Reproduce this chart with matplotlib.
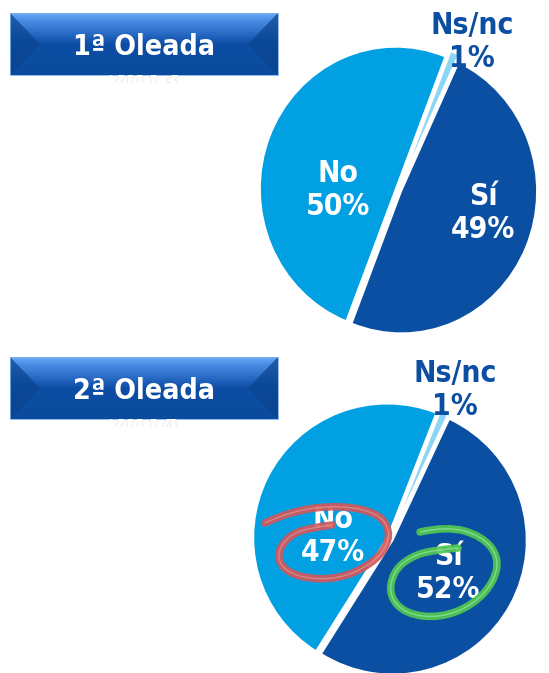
import numpy as np
import matplotlib.pyplot as plt
from matplotlib.path import Path
from matplotlib.patches import PathPatch, Polygon, Rectangle
from matplotlib.colors import LinearSegmentedColormap
import matplotlib.patheffects as pe

W, H = 549, 673

# data
categories = ["Sí", "No", "Ns/nc"]
wave_titles = ["1ª Oleada", "2ª Oleada"]
wave_years = ["2013", "2014"]
values_2013 = [49, 50, 1]
values_2014 = [52, 47, 1]
colors = ["#0b4fa3", "#00a0e3", "#8dd5f5"]

FONT = dict(family="DejaVu Sans", fontstretch="condensed", fontweight="bold")

fig = plt.figure(figsize=(W / 100, H / 100), dpi=100)


def pie_axes(cx, cy, rx, ry):
    # axes placed in pixels, unit circle -> rx, ry pixels
    return fig.add_axes([(cx - 1.25 * rx) / W, (H - cy - 1.25 * ry) / H,
                         2.5 * rx / W, 2.5 * ry / H])


def draw_pie(ax, values):
    ax.pie(values, colors=colors, startangle=65, counterclock=False,
           explode=[0.022, 0.022, 0.05],
           wedgeprops=dict(edgecolor="white", linewidth=1.2))
    ax.set_xlim(-1.25, 1.25)
    ax.set_ylim(-1.25, 1.25)
    ax.set_aspect("auto")
    ax.axis("off")


ax1 = pie_axes(398.5, 190, 135.7, 142)
draw_pie(ax1, values_2013)
ax2 = pie_axes(390, 539, 134, 134)
draw_pie(ax2, values_2014)

# overlay in pixel coords for banners, labels and pen strokes
ov = fig.add_axes([0, 0, 1, 1])
ov.set_xlim(0, W)
ov.set_ylim(H, 0)
ov.axis("off")
ov.patch.set_alpha(0)

grad = np.linspace(0, 1, 100)[:, None]
bcmap = LinearSegmentedColormap.from_list(
    "banner", [(0, "#6aa8f5"), (0.12, "#4a8de6"), (0.45, "#1656b0"), (0.5, "#0c4ea3"), (1, "#0b4b9e")])


def banner(y0, title, year):
    x0, x1, y1 = 10, 278, y0 + 62
    im = ov.imshow(grad, cmap=bcmap, extent=(x0, x1, y1, y0), aspect="auto", zorder=1)
    im.set_clip_path(Rectangle((x0, y0), x1 - x0, y1 - y0, transform=ov.transData))
    ym = y0 + 31
    ov.add_patch(Polygon([(x0, y0), (x0 + 30, ym), (x0, y1)], color="#0a4591", alpha=0.75, lw=0, zorder=2))
    ov.add_patch(Polygon([(x1, y0), (x1 - 30, ym), (x1, y1)], color="#0a4591", alpha=0.75, lw=0, zorder=2))
    ov.add_patch(Rectangle((x0, y0), x1 - x0, y1 - y0, fill=False, ec="#7fb0ea", lw=0.6, zorder=3))
    ov.text((x0 + x1) / 2, y0 + 34, title, color="white", fontsize=20.5,
            ha="center", va="center", zorder=4, **FONT)
    # second line spills out of the box, only its top edge shows
    t = ov.text((x0 + x1) / 2, y0 + 70, year, color="white", fontsize=20.5,
                ha="center", va="center", zorder=4, clip_on=True, **FONT,
                path_effects=[pe.withStroke(linewidth=1, foreground="#e2e2e2")])
    t.set_clip_path(Rectangle((x0, y1), x1 - x0, 8, transform=ov.transData))


banner(13, wave_titles[0], wave_years[0])
banner(357, wave_titles[1], wave_years[1])

# slice labels (pixel positions of each label block)
label_pos = {
    0: [(483, 213), (338, 190), (472, 42)],
    1: [(448, 573), (333, 536), (455, 390)],
}
for w, vals in enumerate([values_2013, values_2014]):
    for i, (cat, v) in enumerate(zip(categories, vals)):
        x, y = label_pos[w][i]
        col = "#0b4ea2" if cat == "Ns/nc" else "white"
        ov.text(x, y, f"{cat}\n{v}%", color=col, fontsize=21.5, ha="center",
                va="center", linespacing=1.2, zorder=5, **FONT)


def smooth_path(pts):
    pts = np.asarray(pts, float)
    verts = [pts[0]]
    codes = [Path.MOVETO]
    for i in range(1, len(pts) - 1):
        end = pts[i + 1] if i == len(pts) - 2 else (pts[i] + pts[i + 1]) / 2
        verts += [pts[i], end]
        codes += [Path.CURVE3, Path.CURVE3]
    return Path(verts, codes)


red_stroke = [(265, 523), (290, 511), (340, 505), (378, 513), (390, 530), (386, 548),
              (372, 563), (348, 576), (317, 580), (287, 573), (276, 556), (287, 537),
              (307, 528), (332, 525)]
green_stroke = [(420, 532), (447, 526), (482, 536), (499, 557), (494, 582), (473, 605),
                (440, 618), (406, 614), (389, 596), (393, 572), (410, 557), (433, 550),
                (458, 548)]

for pts, base, hi in [(red_stroke, "#d3585a", "#e9a0a0"), (green_stroke, "#52c852", "#a8eca8")]:
    p = smooth_path(pts)
    ov.add_patch(PathPatch(p, fill=False, ec=base, lw=5.4, capstyle="round",
                           joinstyle="round", alpha=0.92, zorder=6))
    ov.add_patch(PathPatch(p, fill=False, ec=hi, lw=1.0, alpha=0.6, zorder=7))

fig.savefig("out.png", dpi=100)
